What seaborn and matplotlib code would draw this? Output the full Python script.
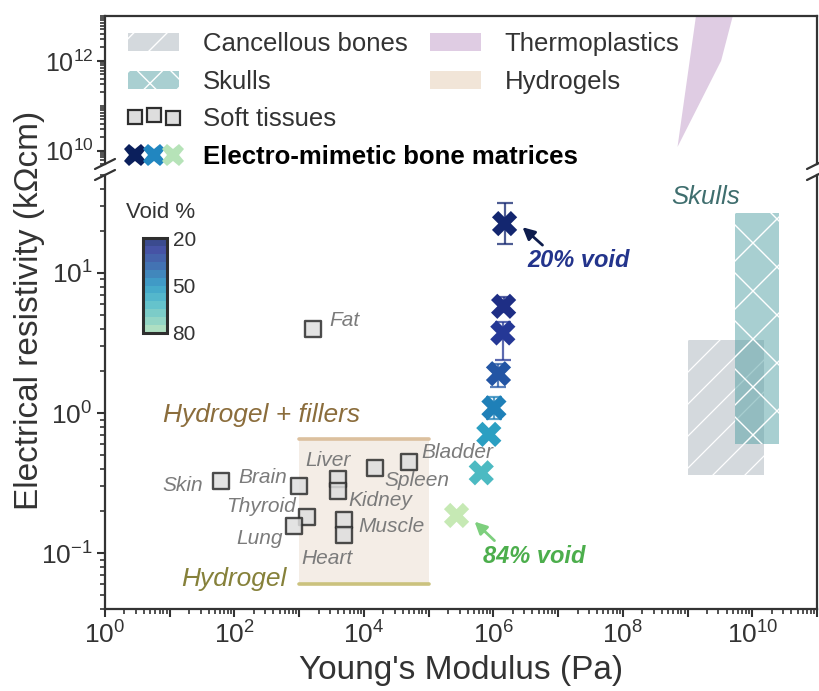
import numpy as np
import pandas as pd
import matplotlib
matplotlib.use("Agg")
import matplotlib.pyplot as plt
import matplotlib.ticker as mticker
import seaborn as sns
from matplotlib.lines import Line2D
from matplotlib.patches import Patch, Rectangle, Polygon
from matplotlib.legend_handler import HandlerBase
from matplotlib.colors import ListedColormap, BoundaryNorm
import matplotlib.colorbar as mcolorbar

# ---------------- data ----------------
tissue_names = ["Skin", "Brain", "Liver", "Kidney", "Spleen", "Bladder",
                "Thyroid", "Lung", "Muscle", "Heart", "Fat"]
tissue_modulus = [61, 990, 4000, 4000, 14800, 49000, 1300, 830, 4900, 4900, 1620]
tissue_resistivity = [0.327, 0.301, 0.340, 0.277, 0.405, 0.447,
                      0.182, 0.156, 0.173, 0.134, 3.96]

matrix_void = [20, 24, 28, 36, 46, 54, 63, 84]
matrix_modulus = [1.49e6, 1.44e6, 1.40e6, 1.20e6, 1.02e6, 8.5e5, 6.5e5, 2.7e5]
matrix_resistivity = [22.5, 5.78, 3.73, 1.91, 1.09, 0.705, 0.375, 0.186]
matrix_err_low = [6.5, 0.5, 1.35, 0.38, 0.18, 0.0, 0.0, 0.0]
matrix_err_high = [9.2, 0.96, 0.74, 0.34, 0.21, 0.0, 0.0, 0.0]

cancellous_modulus = [1e9, 1.5e10]
cancellous_resistivity = [0.36, 3.34]
skull_modulus = [5.4e9, 2.55e10]
skull_resistivity = [0.604, 26.6]
hydrogel_modulus = [1e3, 1e5]
hydrogel_resistivity = 0.060
hydrogel_filler_resistivity = 0.656
thermo_modulus = [7e8, 1.35e9, 5e9, 3.3e9]
thermo_resistivity = [1.2e10, 1e13, 1e13, 1e12]

void_ticks = [20, 50, 80]

# label placement (annotation layout)
tissue_label_pos = {
    "Skin": (32.5, 0.305, "right"), "Brain": (644, 0.349, "right"),
    "Liver": (2830, 0.459, "center"), "Kidney": (5690, 0.238, "left"),
    "Spleen": (20400, 0.331, "left"), "Bladder": (77000, 0.526, "left"),
    "Thyroid": (877, 0.216, "right"), "Lung": (552, 0.127, "right"),
    "Muscle": (8110, 0.155, "left"), "Heart": (1085, 0.0912, "left"),
    "Fat": (2960, 4.58, "left"),
}

# ---------------- style ----------------
sns.set_theme(style="ticks")
plt.rcParams["font.family"] = ["Liberation Sans", "DejaVu Sans"]
plt.rcParams["axes.edgecolor"] = "#333333"
plt.rcParams["axes.linewidth"] = 1.6
plt.rcParams["xtick.color"] = "#333333"
plt.rcParams["ytick.color"] = "#333333"
plt.rcParams["xtick.labelcolor"] = "#333333"
plt.rcParams["ytick.labelcolor"] = "#333333"

W, H = 819, 691
fig = plt.figure(figsize=(W / 100, H / 100), dpi=100)

L, R = 105, 817
up_top, up_bot = 16, 164
lo_top, lo_bot = 175, 609
ax_up = fig.add_axes([L / W, 1 - up_bot / H, (R - L) / W, (up_bot - up_top) / H])
ax = fig.add_axes([L / W, 1 - lo_bot / H, (R - L) / W, (lo_bot - lo_top) / H])

void_cmap = ListedColormap(plt.get_cmap("YlGnBu")(np.linspace(0.95, 0.25, 256)))
void_norm = (20, 84)


def void_color(v):
    return void_cmap((v - void_norm[0]) / (void_norm[1] - void_norm[0]))


def add_hatch(axis, patch, wpx, hpx, spacing, slopes, color="white", lw=1.1):
    for m in slopes:
        span = abs(m) * wpx + hpx
        for c in np.arange(-span, span, spacing):
            xs = np.array([0.0, wpx])
            ys = m * xs + c
            ln, = axis.plot(xs / wpx, ys / hpx, transform=axis.transAxes,
                            color=color, lw=lw, zorder=patch.get_zorder() + 0.01)
            ln.set_clip_path(patch)


for a in (ax, ax_up):
    a.set_xscale("log")
    a.set_yscale("log")
    a.set_xlim(1, 1e11)

ax.set_ylim(0.04, 50)
ax_up.set_ylim(5e9, 1e13)

# ---------- regions ----------
canc = Rectangle((cancellous_modulus[0], cancellous_resistivity[0]),
                 cancellous_modulus[1] - cancellous_modulus[0],
                 cancellous_resistivity[1] - cancellous_resistivity[0],
                 facecolor="#d4d9dd", edgecolor="none", zorder=1)
ax.add_patch(canc)
add_hatch(ax, canc, R - L, lo_bot - lo_top, 32, [1.0], lw=0.9)

skull = Rectangle((skull_modulus[0], skull_resistivity[0]),
                  skull_modulus[1] - skull_modulus[0],
                  skull_resistivity[1] - skull_resistivity[0],
                  facecolor="#53a0a4", alpha=0.5, edgecolor="none", zorder=1.2)
ax.add_patch(skull)
add_hatch(ax, skull, R - L, lo_bot - lo_top, 48, [1.0, -1.0], lw=1.0)

ax.fill_between(hydrogel_modulus, [hydrogel_resistivity] * 2,
                [hydrogel_filler_resistivity] * 2, color="#f4ede6", lw=0, zorder=0.5)
ax.plot(hydrogel_modulus, [hydrogel_filler_resistivity] * 2, color="#dcc09e", lw=2.6, zorder=0.6)
ax.plot(hydrogel_modulus, [hydrogel_resistivity] * 2, color="#cbc27e", lw=2.6, zorder=0.6)

ax_up.add_patch(Polygon(list(zip(thermo_modulus, thermo_resistivity)),
                        closed=True, facecolor="#dfcce3", edgecolor="none"))

# ---------- soft tissues ----------
tissues = pd.DataFrame({"modulus": tissue_modulus, "resistivity": tissue_resistivity,
                        "name": tissue_names})
sns.scatterplot(data=tissues, x="modulus", y="resistivity", marker="s", s=135,
                color="#dedede", edgecolor="#2e2e2e", linewidth=1.7, alpha=0.85,
                ax=ax, zorder=3, legend=False)
for name in tissue_names:
    lx, ly, ha = tissue_label_pos[name]
    ax.text(lx, ly, name, ha=ha, va="center", fontsize=15, style="italic",
            color="#7b7b7b", zorder=4)

ax.text(7.9, 0.963, "Hydrogel + fillers", ha="left", va="center", fontsize=19,
        style="italic", color="#8b6d3c")
ax.text(643, 0.066, "Hydrogel", ha="right", va="center", fontsize=19,
        style="italic", color="#86813a")

# ---------- electro-mimetic matrices ----------
for xm, ym, lo, hi, v in zip(matrix_modulus, matrix_resistivity, matrix_err_low,
                             matrix_err_high, matrix_void):
    if lo > 0 or hi > 0:
        ax.errorbar([xm], [ym], yerr=[[lo], [hi]], fmt="none", ecolor=void_color(v),
                    elinewidth=1.6, capsize=6, capthick=1.6, alpha=0.75, zorder=5)

matrix = pd.DataFrame({"modulus": matrix_modulus, "resistivity": matrix_resistivity,
                       "void": matrix_void})
sns.scatterplot(data=matrix, x="modulus", y="resistivity", hue="void",
                palette=void_cmap, hue_norm=void_norm, marker="X", s=330,
                edgecolor="none", linewidth=0, ax=ax, zorder=6, legend=False)

ax.annotate("", xy=(2.82e6, 21.2), xytext=(5.74e6, 15.8),
            arrowprops=dict(arrowstyle="-|>", color="#0e1d4d", lw=2.0,
                            mutation_scale=18, shrinkA=0, shrinkB=0), zorder=7)
ax.text(3.37e6, 12.3, "20% void", ha="left", va="center", fontsize=17,
        style="italic", fontweight="bold", color="#23348c")
ax.annotate("", xy=(5.13e5, 0.168), xytext=(1.04e6, 0.123),
            arrowprops=dict(arrowstyle="-|>", color="#7dcf7d", lw=2.0,
                            mutation_scale=18, shrinkA=0, shrinkB=0), zorder=7)
ax.text(6.8e5, 0.0947, "84% void", ha="left", va="center", fontsize=17,
        style="italic", fontweight="bold", color="#4cae4c")

ax.text(1.88e9, 34.7, "Skulls", ha="center", va="center", fontsize=18.5,
        style="italic", color="#3f6e6e")

# ---------- axes styling ----------
def even_decade(val, pos):
    e = int(round(np.log10(val)))
    return r"$\mathdefault{10^{%d}}$" % e if e % 2 == 0 else ""

ax.xaxis.set_major_locator(mticker.LogLocator(base=10, numticks=30))
ax.xaxis.set_minor_locator(mticker.LogLocator(base=10, subs=np.arange(2, 10), numticks=30))
ax.xaxis.set_major_formatter(mticker.FuncFormatter(even_decade))
ax.xaxis.set_minor_formatter(mticker.NullFormatter())
ax.yaxis.set_major_locator(mticker.LogLocator(base=10, numticks=30))
ax.yaxis.set_minor_locator(mticker.LogLocator(base=10, subs=np.arange(2, 10), numticks=30))
ax.yaxis.set_minor_formatter(mticker.NullFormatter())

ax_up.yaxis.set_major_locator(mticker.FixedLocator([1e10, 1e12]))
ax_up.yaxis.set_minor_locator(mticker.LogLocator(base=10, subs=np.arange(1, 10), numticks=30))
ax_up.yaxis.set_minor_formatter(mticker.NullFormatter())
ax_up.yaxis.set_major_formatter(mticker.LogFormatterSciNotation())
ax_up.tick_params(axis="x", which="both", bottom=False, labelbottom=False)

for a in (ax, ax_up):
    a.tick_params(axis="both", which="major", direction="out", length=6, width=1.5,
                  labelsize=19, pad=3)
    a.tick_params(axis="both", which="minor", direction="out", length=3.5, width=1.2)
    a.set_xlabel("")
    a.set_ylabel("")
ax_up.tick_params(axis="y", which="major", labelsize=18, pad=2)

ax.spines["top"].set_visible(False)
ax_up.spines["bottom"].set_visible(False)
ax.xaxis.set_label_coords(0.5, -0.105)
ax.set_xlabel("Young's Modulus (Pa)", fontsize=24, color="#333333", va="top")
fig.text(30 / W, 1 - 310 / H, "Electrical resistivity (k\u03a9cm)", rotation=90,
         ha="center", va="center", fontsize=24, color="#333333")

# break marks
for xb in (L, R):
    for yb in (up_bot, lo_top):
        fig.add_artist(Line2D([(xb - 10) / W, (xb + 10) / W],
                              [1 - (yb + 5) / H, 1 - (yb - 5) / H],
                              color="#333333", lw=1.6))

# ---------- colorbar ----------
cax = fig.add_axes([143 / W, 1 - 333 / H, 24 / W, 95 / H])
bounds = np.linspace(20, 80, 13)
mids = (bounds[:-1] + bounds[1:]) / 2
cb_cmap = ListedColormap([void_color(v) for v in mids])
cb = mcolorbar.ColorbarBase(cax, cmap=cb_cmap, norm=BoundaryNorm(bounds, 12),
                            ticks=void_ticks, orientation="vertical", alpha=0.85)
cax.invert_yaxis()
cax.minorticks_off()
cb.outline.set_linewidth(2.2)
cb.outline.set_edgecolor("#2e2e2e")
cax.tick_params(which="both", length=0, labelsize=15, pad=4, labelcolor="#333333")
fig.text(161 / W, 1 - 213 / H, "Void %", ha="center", va="center", fontsize=16,
         color="#333333")

# ---------- legends ----------
class MarkerRowHandler(HandlerBase):
    def __init__(self, specs):
        super().__init__()
        self.specs = specs

    def create_artists(self, legend, orig_handle, xdescent, ydescent, width, height,
                       fontsize, trans):
        arts = []
        for fx, dy, marker, ms, fc, ec, mew in self.specs:
            arts.append(Line2D([-xdescent + fx * width], [-ydescent + height / 2 + dy],
                               marker=marker, markersize=ms, markerfacecolor=fc,
                               markeredgecolor=ec, markeredgewidth=mew,
                               linestyle="none", transform=trans))
        return arts


soft_key = Line2D([], [])
emb_key = Line2D([], [])
soft_handler = MarkerRowHandler([
    (0.13, 0.0, "s", 10, "#dedede", "#2e2e2e", 1.6),
    (0.50, 1.5, "s", 10, "#dedede", "#2e2e2e", 1.6),
    (0.87, -0.5, "s", 10, "#dedede", "#2e2e2e", 1.6),
])
emb_handler = MarkerRowHandler([
    (0.13, 0.0, "X", 16, "#0b1f5c", "none", 0),
    (0.50, 0.0, "X", 16, "#2186c0", "none", 0),
    (0.87, 0.0, "X", 16, "#b6e3b8", "none", 0),
])

h1 = [Patch(facecolor="#d4d9dd", edgecolor="white", hatch="/", lw=0),
      Patch(facecolor="#a9cfd1", edgecolor="white", hatch="x", lw=0),
      soft_key, emb_key]
l1 = ["Cancellous bones", "Skulls", "Soft tissues", "Electro-mimetic bone matrices"]
leg_kw = dict(loc="upper left", frameon=False, fontsize=18.5, handlelength=2.0,
              handleheight=0.7, handletextpad=0.9, labelspacing=0.53, borderpad=0,
              borderaxespad=0)
leg1 = fig.legend(h1, l1, bbox_to_anchor=(128 / W, 1 - 32 / H),
                  handler_map={soft_key: soft_handler, emb_key: emb_handler}, **leg_kw)
for t in leg1.get_texts():
    t.set_color("#333333")
leg1.get_texts()[3].set_fontweight("bold")
leg1.get_texts()[3].set_color("black")

h2 = [Patch(facecolor="#dfcce3", lw=0), Patch(facecolor="#f1e5d8", lw=0)]
l2 = ["Thermoplastics", "Hydrogels"]
leg2 = fig.legend(h2, l2, bbox_to_anchor=(430 / W, 1 - 32 / H), **leg_kw)
for t in leg2.get_texts():
    t.set_color("#333333")

fig.savefig("out.png", dpi=100)
